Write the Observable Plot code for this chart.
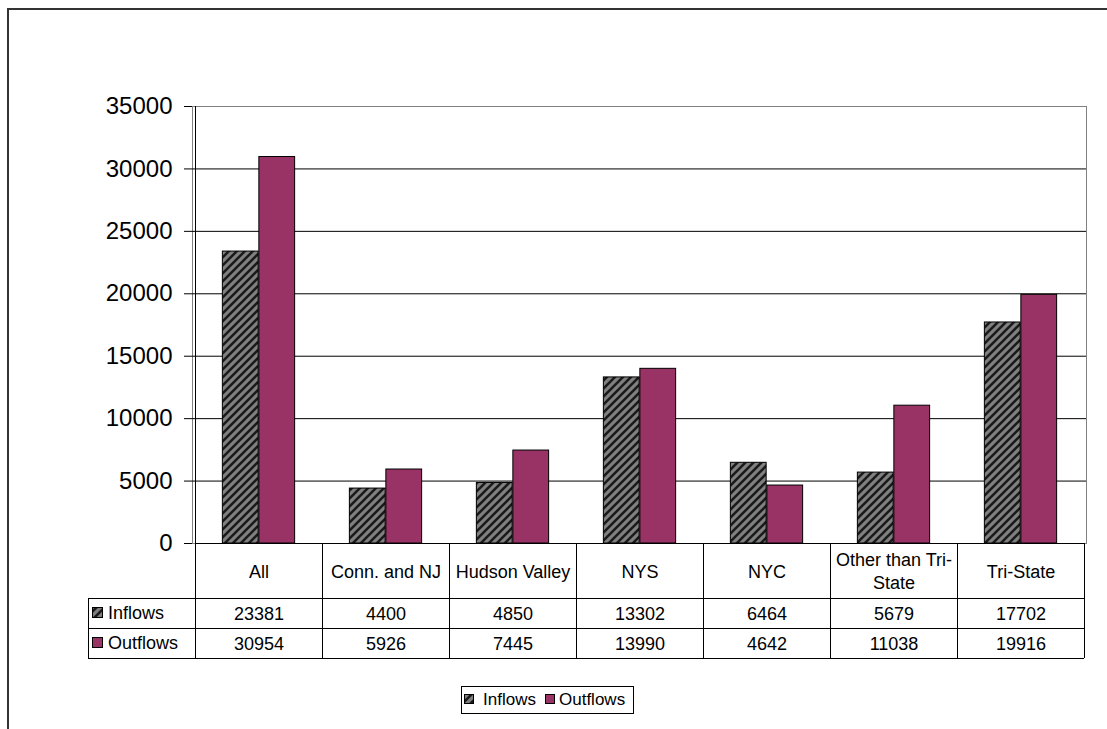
<!DOCTYPE html>
<html><head><meta charset="utf-8">
<script src="https://cdn.jsdelivr.net/npm/d3@7"></script>
<script src="https://cdn.jsdelivr.net/npm/@observablehq/plot@0.6"></script>
<style>
body{margin:0;background:#fff;font-family:"Liberation Sans",Arial,sans-serif;}
#wrap{position:relative;width:1107px;height:729px;overflow:hidden;background:#fff;}
#outer{position:absolute;left:7px;top:8px;width:1200px;height:800px;border-left:2px solid #333;border-top:2px solid #333;}
#chart{position:absolute;left:0;top:0;}
#legend{position:absolute;left:461px;top:686px;width:171px;height:26px;border:1px solid #000;background:#fff;font-size:17px;color:#000;}
#legend .sw{position:absolute;top:7px;width:10px;height:10px;}
#legend .lb{position:absolute;top:3px;line-height:20px;}
</style>
</head><body>
<div id="wrap"><div id="outer"></div><div id="chart"></div>
<div id="legend"></div></div>
<script>
const categories = ["All","Conn. and NJ","Hudson Valley","NYS","NYC","Other than Tri-State","Tri-State"];
const inflows = [23381,4400,4850,13302,6464,5679,17702];
const outflows = [30954,5926,7445,13990,4642,11038,19916];
const seriesNames = ["Inflows","Outflows"];
const seriesFills = ["url(#hatch)","#993366"];
const yTicks = [0,5000,10000,15000,20000,25000,30000,35000];

const W = 1107, H = 676, mL = 192, mR = 21, mT = 106, mB = H - 543;
const bw = (W - mL - mR) / categories.length;
const barW = bw / 3.5;
const catLabel = d => d === "Other than Tri-State" ? "Other than Tri-\nState" : d;

const plot = Plot.plot({
  width: W, height: H,
  marginLeft: mL, marginRight: mR, marginTop: mT, marginBottom: mB,
  style: {fontFamily: '"Liberation Sans", Arial, sans-serif', fontSize: "18px", color: "#000", background: "transparent", overflow: "visible"},
  x: {domain: categories, padding: 0, axis: null},
  y: {domain: [0, 35000]},
  marks: [
    Plot.frame({stroke: "#808080", strokeWidth: 1}),
    Plot.ruleY(yTicks.filter(t => t > 0 && t < 35000), {stroke: "#000", strokeWidth: 1}),
    Plot.barY(categories, {x: d => d, y: (d, i) => inflows[i], fill: seriesFills[0], stroke: "#000", strokeWidth: 1,
      insetLeft: 0.75 * barW, insetRight: bw - 1.75 * barW}),
    Plot.barY(categories, {x: d => d, y: (d, i) => outflows[i], fill: seriesFills[1], stroke: "#000", strokeWidth: 1,
      insetLeft: 1.75 * barW, insetRight: 0.75 * barW}),
    Plot.axisY({ticks: yTicks, tickSize: 8, tickPadding: 12, fontSize: 24, tickFormat: d => String(d), label: null}),
    Plot.text(categories, {x: d => d, frameAnchor: "bottom", lineAnchor: "middle", dy: 27, text: catLabel, fontSize: 18, lineHeight: 1.27}),
    Plot.text(categories, {x: d => d, frameAnchor: "bottom", lineAnchor: "middle", dy: 71, text: (d, i) => String(inflows[i]), fontSize: 18}),
    Plot.text(categories, {x: d => d, frameAnchor: "bottom", lineAnchor: "middle", dy: 101, text: (d, i) => String(outflows[i]), fontSize: 18})
  ]
});
document.getElementById("chart").appendChild(plot);

const svg = d3.select(plot);
const defs = svg.insert("defs", ":first-child");
const pat = defs.append("pattern").attr("id", "hatch").attr("patternUnits", "userSpaceOnUse")
  .attr("width", 8).attr("height", 8);
pat.append("rect").attr("width", 8).attr("height", 8).attr("fill", "#808080");
pat.append("path").attr("d", "M-2,2 L2,-2 M0,8 L8,0 M6,10 L10,6")
  .attr("stroke", "#1a1a1a").attr("stroke-width", 2.6);

// table grid drawn from the plot's scales
const xs = plot.scale("x"), ys = plot.scale("y");
const x0 = xs.apply(categories[0]);
const xEnd = x0 + xs.bandwidth * categories.length;
const y0 = ys.apply(0), yTop = ys.apply(35000);
const rowB = [y0 + 55, y0 + 85, y0 + 115];
const labelLeft = 88;
const g = svg.append("g").attr("stroke", "#000").attr("stroke-width", 1).attr("shape-rendering", "crispEdges");
g.append("line").attr("x1", x0).attr("x2", x0).attr("y1", yTop).attr("y2", rowB[2]);
g.append("line").attr("x1", x0).attr("x2", xEnd).attr("y1", y0).attr("y2", y0);
for (let i = 1; i <= categories.length; i++) {
  const xx = x0 + xs.bandwidth * i;
  g.append("line").attr("x1", xx).attr("x2", xx).attr("y1", y0).attr("y2", rowB[2]);
}
rowB.forEach(yy => g.append("line").attr("x1", labelLeft).attr("x2", xEnd).attr("y1", yy).attr("y2", yy));
g.append("line").attr("x1", labelLeft).attr("x2", labelLeft).attr("y1", rowB[0]).attr("y2", rowB[2]);

// row labels with swatches
const rl = svg.append("g").attr("text-anchor", "start");
seriesNames.forEach((name, i) => {
  const cy = (rowB[i] + rowB[i + 1]) / 2;
  rl.append("rect").attr("x", labelLeft + 4.5).attr("y", cy - 5.5).attr("width", 10).attr("height", 10)
    .attr("fill", seriesFills[i]).attr("stroke", "#000");
  rl.append("text").attr("x", labelLeft + 20).attr("y", cy).attr("dy", "0.35em")
    .attr("text-anchor", "start").attr("font-size", 18).attr("fill", "#000").text(name);
});

// legend
const leg = document.getElementById("legend");
const swX = [2, 83], lbX = [21, 97];
seriesNames.forEach((name, i) => {
  const s = document.createElementNS("http://www.w3.org/2000/svg", "svg");
  s.setAttribute("class", "sw"); s.setAttribute("width", 10); s.setAttribute("height", 10);
  s.style.left = swX[i] + "px";
  s.innerHTML = `<rect x="0.5" y="0.5" width="9" height="9" fill="${seriesFills[i]}" stroke="#000"/>`;
  leg.appendChild(s);
  const t = document.createElement("span");
  t.className = "lb"; t.style.left = lbX[i] + "px"; t.textContent = name;
  leg.appendChild(t);
});
</script>
</body></html>
